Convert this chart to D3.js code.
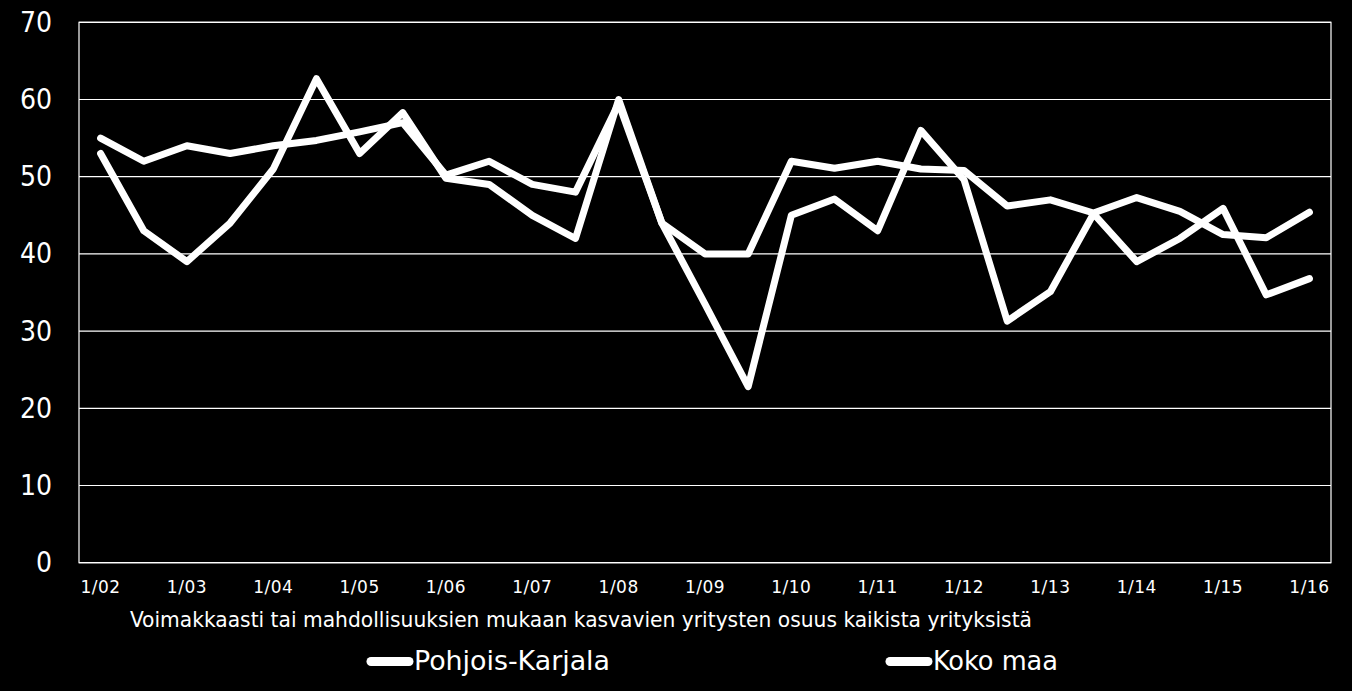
<!DOCTYPE html>
<html lang="fi">
<head>
<meta charset="utf-8">
<script src="https://cdn.jsdelivr.net/npm/d3@7"></script>
<style>
  body { margin: 0; background: #000; }
  svg { display: block; }
</style>
</head>
<body>
<div id="chart"></div>
<script>
// half-year periods
const periods = ["1/02","7/02","1/03","7/03","1/04","7/04","1/05","7/05","1/06","7/06",
  "1/07","7/07","1/08","7/08","1/09","7/09","1/10","7/10","1/11","7/11",
  "1/12","7/12","1/13","7/13","1/14","7/14","1/15","7/15","1/16"];
const tickLabels = ["1/02","1/03","1/04","1/05","1/06","1/07","1/08","1/09",
  "1/10","1/11","1/12","1/13","1/14","1/15","1/16"];
const pohjoisKarjala = [53, 43, 39, 44, 51, 62.7, 53, 58.3, 49.8, 49, 45, 42, 60, 44, 33.5,
  22.8, 45, 47.1, 43, 56, 49.6, 31.3, 35.1, 45.2, 39, 42, 45.9, 34.7, 36.8];
const kokoMaa = [55, 52, 54, 53, 54, 54.7, 55.8, 57, 50.2, 52, 49, 48, 59.5, 44, 40,
  40, 52, 51.1, 52, 51, 50.8, 46.2, 47, 45.3, 47.3, 45.5, 42.5, 42.1, 45.4];
const yTicks = [0, 10, 20, 30, 40, 50, 60, 70];
const seriesNames = ["Pohjois-Karjala", "Koko maa"];
const subtitle = "Voimakkaasti tai mahdollisuuksien mukaan kasvavien yritysten osuus kaikista yrityksistä";

const W = 1352, H = 691;
const margin = { top: 22.3, right: 21, bottom: 128.3, left: 79 };
const width = W - margin.left - margin.right,
      height = H - margin.top - margin.bottom;

const svg = d3.select("#chart").append("svg")
  .attr("width", W).attr("height", H)
  .style("background", "#000");

const g = svg.append("g")
  .attr("transform", `translate(${margin.left},${margin.top})`);

const x = d3.scaleBand().domain(periods).range([0, width]);
const y = d3.scaleLinear().domain([0, 70]).range([height, 0]);

// grid lines
g.append("g")
  .selectAll("line")
  .data(yTicks)
  .join("line")
  .attr("x1", 0).attr("x2", width)
  .attr("y1", d => y(d)).attr("y2", d => y(d))
  .attr("stroke", "#fff").attr("stroke-width", 1.2);

// frame
g.append("rect")
  .attr("width", width).attr("height", height)
  .attr("fill", "none").attr("stroke", "#fff").attr("stroke-width", 1.2);

// Y axis labels
const yAxis = g.append("g")
  .call(d3.axisLeft(y).tickValues(yTicks).tickSize(0).tickPadding(27));
yAxis.select(".domain").remove();
yAxis.selectAll("text")
  .attr("fill", "#fff")
  .style("font-family", "'Liberation Sans Narrow', 'DejaVu Sans Condensed', sans-serif")
  .style("font-size", "28px");

// X axis labels
const xAxis = g.append("g")
  .attr("transform", `translate(0,${height})`)
  .call(d3.axisBottom(x).tickValues(tickLabels).tickSize(0).tickPadding(18));
xAxis.select(".domain").remove();
xAxis.selectAll("text")
  .attr("fill", "#fff")
  .style("font-family", "'DejaVu Sans', sans-serif")
  .style("font-size", "17px")
  .style("letter-spacing", "0.5px");

// lines
const line = d3.line()
  .x((d, i) => x(periods[i]) + x.bandwidth() / 2)
  .y(d => y(d));

[pohjoisKarjala, kokoMaa].forEach(s => {
  g.append("path")
    .datum(s)
    .attr("d", line)
    .attr("fill", "none")
    .attr("stroke", "#fff")
    .attr("stroke-width", 7)
    .attr("stroke-linejoin", "round")
    .attr("stroke-linecap", "round");
});

// subtitle
svg.append("text")
  .attr("x", 130).attr("y", 627)
  .attr("fill", "#fff")
  .attr("textLength", 902).attr("lengthAdjust", "spacingAndGlyphs")
  .style("font-family", "'DejaVu Sans Condensed', sans-serif")
  .style("font-size", "21px")
  .text(subtitle);

// legend
const legend = [
  { name: seriesNames[0], x0: 371, len: 196 },
  { name: seriesNames[1], x0: 890, len: 125 }
];
legend.forEach(l => {
  svg.append("line")
    .attr("x1", l.x0).attr("x2", l.x0 + 38)
    .attr("y1", 661.5).attr("y2", 661.5)
    .attr("stroke", "#fff").attr("stroke-width", 9)
    .attr("stroke-linecap", "round");
  svg.append("text")
    .attr("x", l.x0 + 43).attr("y", 670)
    .attr("fill", "#fff")
    .attr("textLength", l.len).attr("lengthAdjust", "spacingAndGlyphs")
    .style("font-family", "'DejaVu Sans Condensed', sans-serif")
    .style("font-size", "27px")
    .text(l.name);
});
</script>
</body>
</html>
